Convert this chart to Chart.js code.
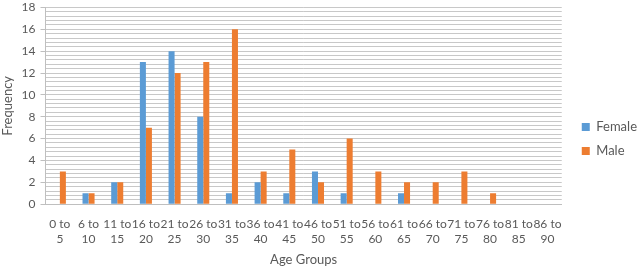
<!DOCTYPE html>
<html>
<head>
<meta charset="utf-8">
<script src="https://cdn.jsdelivr.net/npm/chart.js@4"></script>
<style>
    html, body { margin: 0; padding: 0; background: #fff; }
    #wrap { width: 638px; height: 268px; }
</style>
</head>
<body>
<div id="wrap"><canvas id="ageChart"></canvas></div>
<script>
const ageGroups = [
    ['0 to', '5'], ['6 to', '10'], ['11 to', '15'], ['16 to', '20'], ['21 to', '25'],
    ['26 to', '30'], ['31 to', '35'], ['36 to', '40'], ['41 to', '45'], ['46 to', '50'],
    ['51 to', '55'], ['56 to', '60'], ['61 to', '65'], ['66 to', '70'], ['71 to', '75'],
    ['76 to', '80'], ['81 to', '85'], ['86 to', '90']
];
const femaleCounts = [0, 1, 2, 13, 14, 8, 1, 2, 1, 3, 1, 0, 1, 0, 0, 0, 0, 0];
const maleCounts = [3, 1, 2, 7, 12, 13, 16, 3, 5, 2, 6, 3, 2, 2, 3, 1, 0, 0];
const yMax = 18;
const minorStep = 0.4;

const textColor = '#595959';
const fontFamily = 'Lato, "Open Sans", sans-serif';

function isMajor(v) {
    return Math.abs(v / 2 - Math.round(v / 2)) < 1e-6;
}

// nudge the legend a little to the right / down, like the original
const legendNudge = {
    id: 'legendNudge',
    afterLayout(chart) {
        let lg = chart.legend;
        if (!lg) return;
        lg.left += 9;
        lg.right += 9;
        lg.top += 5;
        lg.bottom += 5;
    }
};

let ctx = document.getElementById('ageChart');
let ageChart = new Chart(ctx, {
    type: 'bar',
    data: {
        labels: ageGroups,
        datasets: [
            {
                label: 'Female',
                data: femaleCounts,
                backgroundColor: '#5B9BD5',
                borderWidth: 0
            },
            {
                label: 'Male',
                data: maleCounts,
                backgroundColor: '#ED7D31',
                borderWidth: 0
            }
        ]
    },
    plugins: [legendNudge],
    options: {
        responsive: true,
        maintainAspectRatio: false,
        animation: false,
        datasets: {
            bar: {
                categoryPercentage: 0.42,
                barPercentage: 1
            }
        },
        layout: {
            padding: { top: 0, right: 0, left: 0, bottom: 0 }
        },
        plugins: {
            tooltip: { enabled: false },
            legend: {
                position: 'right',
                labels: {
                    boxWidth: 8,
                    boxHeight: 8,
                    padding: 11,
                    color: textColor,
                    font: { family: fontFamily, size: 13 }
                }
            }
        },
        scales: {
            x: {
                grid: { display: false },
                border: { display: true, color: '#bfbfbf' },
                ticks: {
                    color: textColor,
                    font: { family: fontFamily, size: 12, lineHeight: 1.3 },
                    maxRotation: 0,
                    autoSkip: false,
                    padding: 4
                },
                title: {
                    display: true,
                    text: 'Age Groups',
                    color: textColor,
                    font: { family: fontFamily, size: 13 },
                    padding: { top: 1, bottom: 0 }
                }
            },
            y: {
                min: 0,
                max: yMax,
                grid: {
                    color: '#c8c8c8',
                    tickLength: 5,
                    tickColor: function (c) {
                        return c.tick && isMajor(c.tick.value) ? '#bfbfbf' : 'rgba(0,0,0,0)';
                    }
                },
                border: { display: true, color: '#bfbfbf' },
                ticks: {
                    stepSize: minorStep,
                    autoSkip: false,
                    color: textColor,
                    // small lineHeight keeps the top label from pushing the plot down
                    font: { family: fontFamily, size: 12, lineHeight: 0.4 },
                    padding: 5,
                    callback: function (v) {
                        return isMajor(v) ? Math.round(v) : '';
                    }
                },
                title: {
                    display: true,
                    text: 'Frequency',
                    color: textColor,
                    font: { family: fontFamily, size: 13 },
                    padding: { top: 0, bottom: 1 }
                }
            }
        }
    }
});
</script>
</body>
</html>
